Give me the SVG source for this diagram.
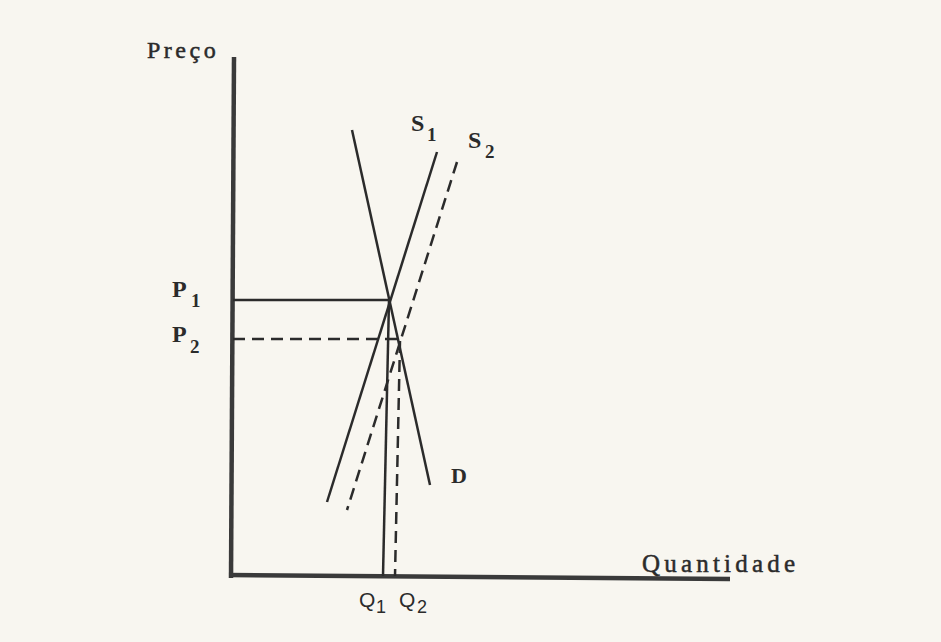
<svg xmlns="http://www.w3.org/2000/svg" width="941" height="642" viewBox="0 0 941 642">
<style>
.ttl{font-family:"Liberation Serif","DejaVu Serif",serif;fill:#2b2b2b;stroke:#2b2b2b;stroke-width:0.5;}
.sym{font-family:"Liberation Serif","DejaVu Serif",serif;fill:#2b2b2b;font-weight:bold;}
.q{font-family:"Liberation Sans","DejaVu Sans",sans-serif;fill:#2b2b2b;}
.ax{stroke:#3a3a3a;stroke-width:4.5;fill:none;stroke-linecap:butt;}
.ln{stroke:#2b2b2b;stroke-width:2.5;fill:none;}
.ds{stroke:#2b2b2b;stroke-width:2.5;fill:none;stroke-dasharray:12,7;}
</style>
<rect width="941" height="642" fill="#f8f6f0"/>
<g id="axes">
<line class="ax" x1="234" y1="57" x2="231" y2="578"/>
<line class="ax" x1="229" y1="575" x2="730" y2="579"/>
</g>
<g id="connectors">
<line class="ln" x1="233" y1="300" x2="390" y2="300"/>
<line class="ds" x1="233" y1="339" x2="400" y2="339"/>
<line class="ln" x1="389" y1="300" x2="383" y2="576"/>
<line class="ds" x1="400" y1="341" x2="395" y2="576"/>
</g>
<g id="S1"><line class="ln" x1="437" y1="152" x2="327" y2="502"/></g>
<g id="S2"><line class="ds" x1="457" y1="162" x2="347" y2="510"/></g>
<g id="D"><line class="ln" x1="352" y1="130" x2="430" y2="485"/></g>
<g id="labels">
<text class="ttl" x="147" y="58" font-size="24" letter-spacing="3.5">Preço</text>
<text class="ttl" x="642" y="572" font-size="25" letter-spacing="4.2">Quantidade</text>
<text class="sym" x="411" y="131" font-size="24">S</text>
<text class="sym" x="427" y="141" font-size="19">1</text>
<text class="sym" x="468" y="148" font-size="24">S</text>
<text class="sym" x="485" y="158" font-size="19">2</text>
<text class="sym" x="172" y="297" font-size="24">P</text>
<text class="sym" x="191" y="307" font-size="19">1</text>
<text class="sym" x="172" y="342" font-size="24">P</text>
<text class="sym" x="190" y="353" font-size="19">2</text>
<text class="sym" x="451" y="483" font-size="22">D</text>
<text class="q" x="359" y="607" font-size="21">Q</text>
<text class="q" x="376" y="613" font-size="18">1</text>
<text class="q" x="399" y="607" font-size="21">Q</text>
<text class="q" x="417" y="613" font-size="18">2</text>
</g>
</svg>
